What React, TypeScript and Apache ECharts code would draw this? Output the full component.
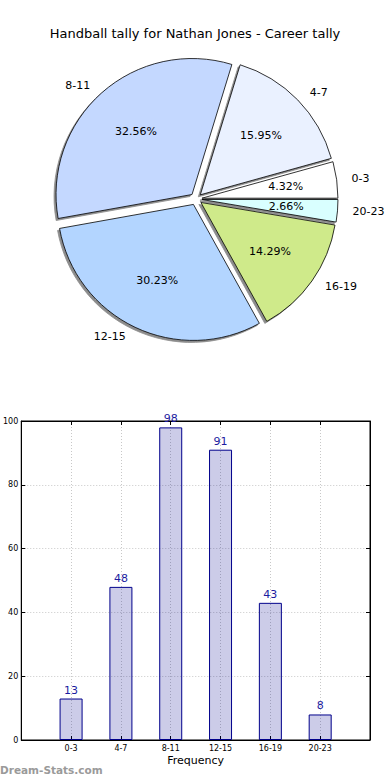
import React, { useEffect, useRef } from "react";
import * as echarts from "echarts";

const categories = ["0-3", "4-7", "8-11", "12-15", "16-19", "20-23"];
const counts = [13, 48, 98, 91, 43, 8];
const pieColors = ["#ffffff", "#eaf1ff", "#c4d8ff", "#b3d5ff", "#cfea8a", "#d9ffff"];
const yTicks = [0, 20, 40, 60, 80, 100];
const titleText = "Handball tally for Nathan Jones - Career tally";

export default function App() {
  const ref = useRef<HTMLDivElement>(null);
  useEffect(() => {
    document.body.style.margin = "0";
    const chart = echarts.init(ref.current!, undefined, { renderer: "svg" });
    const pieR = 136;
    const pieCenter = [196, 199];
    const font = "DejaVu Sans";
    const total = counts.reduce((a, b) => a + b, 0);
    const axisCommon = {
      axisLine: { show: true, onZero: false, lineStyle: { color: "#000" } },
      axisTick: { show: true, inside: true, length: 4, lineStyle: { color: "#000" } },
    };
    chart.setOption({
      animation: false,
      textStyle: { fontFamily: font },
      title: {
        text: titleText,
        left: "center",
        top: 22,
        textStyle: { fontSize: 13, fontWeight: "normal", color: "#000", fontFamily: font },
      },
      graphic: [
        {
          type: "text",
          left: 0,
          top: 764,
          style: { text: "Dream-Stats.com", fill: "#9a9a9a", fontSize: 10.5, fontWeight: "bold", fontFamily: font },
        },
      ],
      grid: { left: 19, right: 20, top: 421, bottom: 40, show: true, borderColor: "#000", borderWidth: 1 },
      xAxis: [
        {
          type: "value",
          min: -1,
          max: 6,
          interval: 1,
          name: "Frequency",
          nameLocation: "middle",
          nameGap: 15,
          nameTextStyle: { fontSize: 11, color: "#000", fontFamily: font },
          ...axisCommon,
          axisLabel: {
            fontSize: 8,
            color: "#000",
            margin: 4,
            formatter: (v: number) => categories[v] ?? "",
          },
          splitLine: { show: true, lineStyle: { color: "#c8c8c8", type: [1, 2] } },
        },
        {
          type: "value",
          position: "top",
          min: -1,
          max: 6,
          interval: 1,
          ...axisCommon,
          axisLabel: { show: false },
          splitLine: { show: false },
        },
      ],
      yAxis: [
        {
          type: "value",
          min: yTicks[0],
          max: yTicks[yTicks.length - 1],
          interval: 20,
          ...axisCommon,
          axisLabel: { fontSize: 8, color: "#000", margin: 3 },
          splitLine: { show: true, lineStyle: { color: "#c8c8c8", type: [1, 2] } },
        },
        {
          type: "value",
          position: "right",
          min: yTicks[0],
          max: yTicks[yTicks.length - 1],
          interval: 20,
          ...axisCommon,
          axisLabel: { show: false },
          splitLine: { show: false },
        },
      ],
      series: [
        {
          type: "pie",
          center: pieCenter,
          radius: pieR,
          startAngle: 0,
          clockwise: false,
          selectedMode: "multiple",
          selectedOffset: 6,
          avoidLabelOverlap: false,
          emphasis: { disabled: true },
          itemStyle: {
            borderColor: "#000",
            borderWidth: 0.8,
            shadowColor: "rgba(0,0,0,0.45)",
            shadowOffsetX: -2,
            shadowOffsetY: 2,
            shadowBlur: 1,
          },
          label: { show: true, position: "outside", formatter: "{b}", color: "#000", fontSize: 11, fontFamily: font },
          labelLine: { show: false, length: 10, length2: 0 },
          data: categories.map((c, i) => ({
            name: c,
            value: counts[i],
            selected: true,
            itemStyle: { color: pieColors[i] },
          })),
          z: 2,
        },
        {
          type: "pie",
          center: pieCenter,
          radius: [pieR * 0.2, pieR],
          startAngle: 0,
          clockwise: false,
          selectedMode: "multiple",
          selectedOffset: 6,
          avoidLabelOverlap: false,
          silent: true,
          emphasis: { disabled: true },
          itemStyle: { color: "transparent", borderWidth: 0 },
          label: {
            show: true,
            position: "inside",
            formatter: (p: any) => ((p.value / total) * 100).toFixed(2) + "%",
            color: "#000",
            fontSize: 11,
            fontFamily: font,
          },
          labelLine: { show: false },
          data: categories.map((c, i) => ({ name: c, value: counts[i], selected: true })),
          z: 3,
        },
        {
          type: "bar",
          xAxisIndex: 0,
          yAxisIndex: 0,
          barWidth: 23,
          data: counts.map((v, i) => [i, v]),
          itemStyle: { color: "rgba(0,0,139,0.2)", borderColor: "#00008b", borderWidth: 1 },
          label: { show: true, position: "top", distance: 3, color: "#1c1ca0", fontSize: 11, fontFamily: font },
          emphasis: { disabled: true },
        },
      ],
    });
    return () => chart.dispose();
  }, []);
  return <div ref={ref} style={{ width: 390, height: 780 }} />;
}
